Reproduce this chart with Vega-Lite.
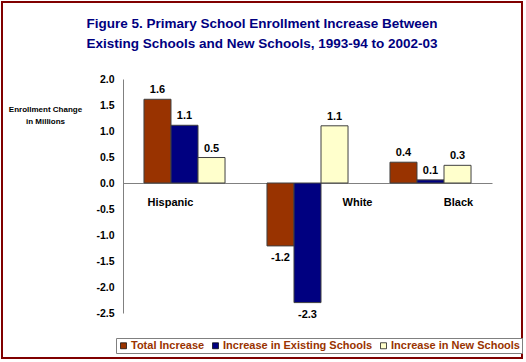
{
  "$schema": "https://vega.github.io/schema/vega-lite/v6.json",
  "width": 520,
  "height": 356,
  "autosize": {"type": "none"},
  "padding": {"left": 2, "top": 2, "right": 4, "bottom": 4},
  "background": "white",
  "config": {
    "view": {"stroke": "#800000", "strokeWidth": 2},
    "font": "Liberation Sans",
    "locale": {"number": {"decimal": ".", "thousands": ",", "grouping": [3], "currency": ["$", ""], "minus": "-"}}
  },
  "title": {
    "text": ["Figure 5. Primary School Enrollment Increase Between", "Existing Schools and New Schools, 1993-94 to 2002-03"],
    "font": "Liberation Sans",
    "fontSize": 13.5,
    "fontWeight": "bold",
    "color": "#000080",
    "anchor": "middle",
    "frame": "group",
    "baseline": "alphabetic",
    "offset": -59,
    "lineHeight": 20
  },
  "data": {
    "values": [
      {"group": "Hispanic", "series": "Total Increase", "value": 1.61},
      {"group": "Hispanic", "series": "Increase in Existing Schools", "value": 1.11},
      {"group": "Hispanic", "series": "Increase in New Schools", "value": 0.49},
      {"group": "White", "series": "Total Increase", "value": -1.21},
      {"group": "White", "series": "Increase in Existing Schools", "value": -2.3},
      {"group": "White", "series": "Increase in New Schools", "value": 1.1},
      {"group": "Black", "series": "Total Increase", "value": 0.4},
      {"group": "Black", "series": "Increase in Existing Schools", "value": 0.06},
      {"group": "Black", "series": "Increase in New Schools", "value": 0.34}
    ]
  },
  "encoding": {
    "x": {
      "field": "group",
      "type": "nominal",
      "sort": ["Hispanic", "White", "Black"],
      "scale": {"range": [121, 490], "paddingInner": 0.341, "paddingOuter": 0.1705},
      "axis": {"orient": "bottom", "offset": -175, "labels": false, "ticks": false, "title": null, "domainColor": "#808080", "domainWidth": 1}
    },
    "y": {
      "field": "value",
      "type": "quantitative",
      "scale": {"domain": [-2.5, 2], "range": [311, 77], "nice": false, "zero": false},
      "axis": {
        "offset": -121,
        "values": [-2.5, -2, -1.5, -1, -0.5, 0, 0.5, 1, 1.5, 2],
        "format": ".1f",
        "grid": false,
        "ticks": false,
        "domainColor": "#808080",
        "labelFont": "Liberation Sans",
        "labelFontSize": 10.5,
        "labelFontWeight": "bold",
        "labelColor": "#000000",
        "labelPadding": 9,
        "title": ["Enrollment Change", "in Millions"],
        "titleAngle": 0,
        "titleX": -78,
        "titleY": 103,
        "titleAlign": "center",
        "titleBaseline": "top",
        "titleFont": "Liberation Sans",
        "titleFontSize": 8,
        "titleFontWeight": "bold",
        "titleColor": "#000000",
        "titleLineHeight": 12
      }
    }
  },
  "layer": [
    {
      "mark": {"type": "bar", "stroke": "#404040", "strokeWidth": 1},
      "encoding": {
        "xOffset": {"field": "series", "type": "nominal", "sort": ["Total Increase", "Increase in Existing Schools", "Increase in New Schools"], "scale": {"paddingInner": 0}},
        "color": {
          "field": "series",
          "type": "nominal",
          "sort": ["Total Increase", "Increase in Existing Schools", "Increase in New Schools"],
          "scale": {"domain": ["Total Increase", "Increase in Existing Schools", "Increase in New Schools"], "range": ["#993300", "#000080", "#FFFFCC"]},
          "legend": {
            "orient": "none",
            "legendX": 114,
            "legendY": 336,
            "direction": "horizontal",
            "columns": 3,
            "title": null,
            "symbolType": "square",
            "symbolSize": 36,
            "symbolStrokeColor": "#000000",
            "symbolStrokeWidth": 0.7,
            "labelFont": "Liberation Sans",
            "labelFontSize": 11,
            "labelFontWeight": "bold",
            "labelColor": "#993300",
            "labelOffset": 2,
            "columnPadding": 5,
            "padding": 2,
            "strokeColor": "#808080",
            "fillColor": "#ffffff"
          }
        }
      }
    },
    {
      "transform": [{"filter": "datum.value >= 0"}],
      "mark": {"type": "text", "baseline": "bottom", "dy": -4, "fontSize": 11, "fontWeight": "bold", "color": "#000000"},
      "encoding": {
        "xOffset": {"field": "series", "type": "nominal", "sort": ["Total Increase", "Increase in Existing Schools", "Increase in New Schools"], "scale": {"paddingInner": 0}},
        "text": {"field": "value", "type": "quantitative", "format": ".1f"}
      }
    },
    {
      "transform": [{"filter": "datum.value < 0"}],
      "mark": {"type": "text", "baseline": "top", "dy": 6, "fontSize": 11, "fontWeight": "bold", "color": "#000000"},
      "encoding": {
        "xOffset": {"field": "series", "type": "nominal", "sort": ["Total Increase", "Increase in Existing Schools", "Increase in New Schools"], "scale": {"paddingInner": 0}},
        "text": {"field": "value", "type": "quantitative", "format": ".1f"}
      }
    },
    {
      "transform": [{"filter": "datum.series === 'Total Increase' && datum.group === 'Hispanic'"}],
      "mark": {"type": "text", "baseline": "middle", "dx": -14, "fontSize": 11, "fontWeight": "bold", "color": "#000000"},
      "encoding": {"y": {"datum": -0.38}, "text": {"field": "group"}}
    },
    {
      "transform": [{"filter": "datum.series === 'Total Increase' && datum.group === 'White'"}],
      "mark": {"type": "text", "baseline": "middle", "dx": 50, "fontSize": 11, "fontWeight": "bold", "color": "#000000"},
      "encoding": {"y": {"datum": -0.38}, "text": {"field": "group"}}
    },
    {
      "transform": [{"filter": "datum.series === 'Total Increase' && datum.group === 'Black'"}],
      "mark": {"type": "text", "baseline": "middle", "dx": 28, "fontSize": 11, "fontWeight": "bold", "color": "#000000"},
      "encoding": {"y": {"datum": -0.38}, "text": {"field": "group"}}
    }
  ]
}
